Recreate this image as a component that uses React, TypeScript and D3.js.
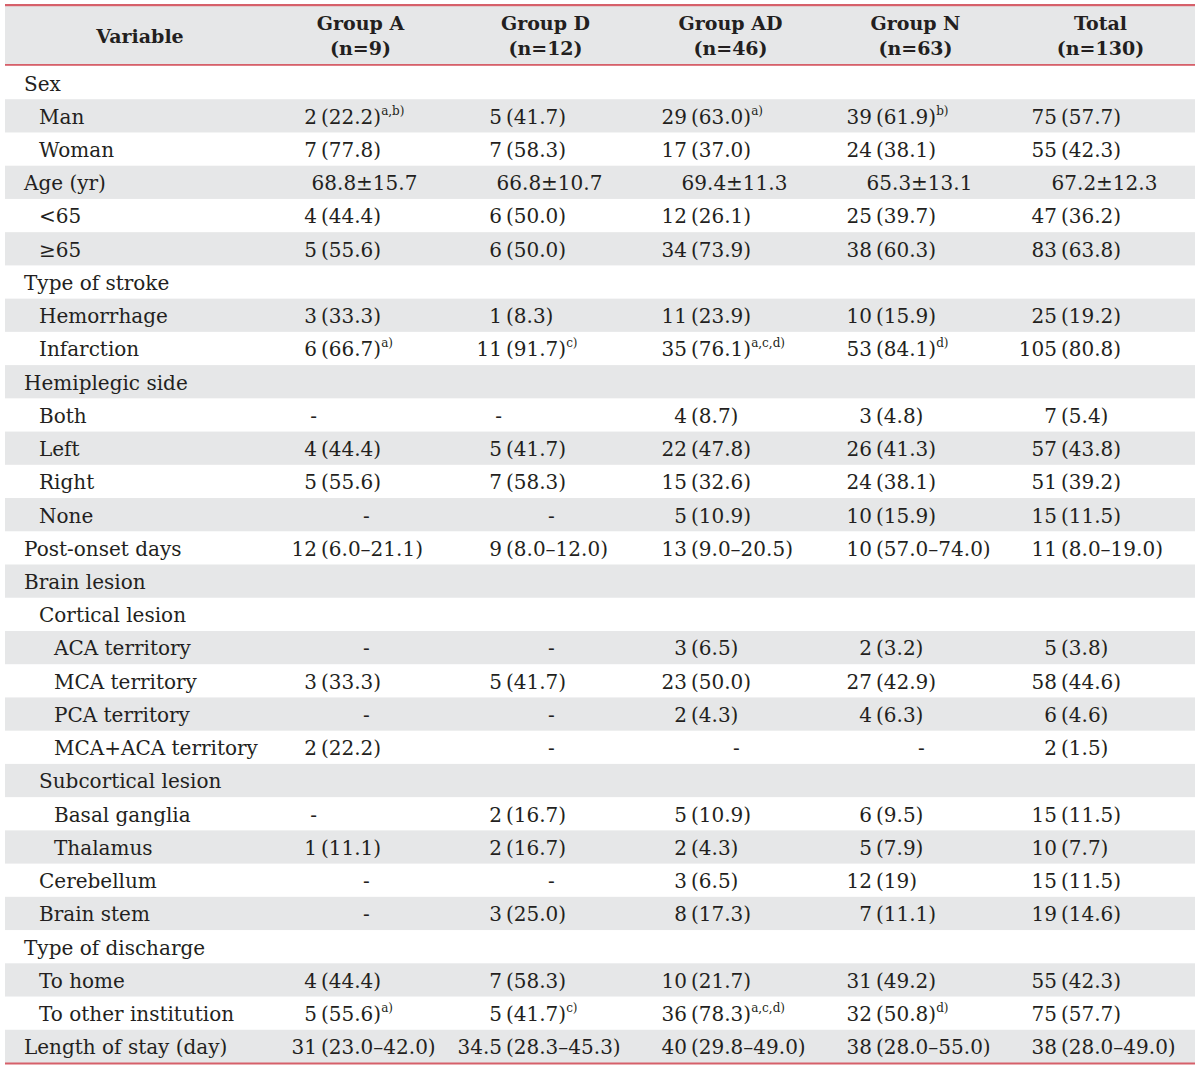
import React from "react";
import * as d3 from "d3";

const groups = ["Group A", "Group D", "Group AD", "Group N", "Total"];
const groupN = ["(n=9)", "(n=12)", "(n=46)", "(n=63)", "(n=130)"];

const variables = [
  "Sex", "Man", "Woman", "Age (yr)", "<65", "≥65", "Type of stroke", "Hemorrhage", "Infarction",
  "Hemiplegic side", "Both", "Left", "Right", "None", "Post-onset days", "Brain lesion",
  "Cortical lesion", "ACA territory", "MCA territory", "PCA territory", "MCA+ACA territory",
  "Subcortical lesion", "Basal ganglia", "Thalamus", "Cerebellum", "Brain stem",
  "Type of discharge", "To home", "To other institution", "Length of stay (day)",
];
const levels = [0, 1, 1, 0, 1, 1, 0, 1, 1, 0, 1, 1, 1, 1, 0, 0, 1, 2, 2, 2, 2, 1, 2, 2, 1, 1, 0, 1, 1, 0];

const valuesA = ["", "2 (22.2)^a,b)", "7 (77.8)", "68.8±15.7", "4 (44.4)", "5 (55.6)", "", "3 (33.3)", "6 (66.7)^a)", "", "-", "4 (44.4)", "5 (55.6)", "-", "12 (6.0–21.1)", "", "", "-", "3 (33.3)", "-", "2 (22.2)", "", "-", "1 (11.1)", "-", "-", "", "4 (44.4)", "5 (55.6)^a)", "31 (23.0–42.0)"];
const valuesD = ["", "5 (41.7)", "7 (58.3)", "66.8±10.7", "6 (50.0)", "6 (50.0)", "", "1 (8.3)", "11 (91.7)^c)", "", "-", "5 (41.7)", "7 (58.3)", "-", "9 (8.0–12.0)", "", "", "-", "5 (41.7)", "-", "-", "", "2 (16.7)", "2 (16.7)", "-", "3 (25.0)", "", "7 (58.3)", "5 (41.7)^c)", "34.5 (28.3–45.3)"];
const valuesAD = ["", "29 (63.0)^a)", "17 (37.0)", "69.4±11.3", "12 (26.1)", "34 (73.9)", "", "11 (23.9)", "35 (76.1)^a,c,d)", "", "4 (8.7)", "22 (47.8)", "15 (32.6)", "5 (10.9)", "13 (9.0–20.5)", "", "", "3 (6.5)", "23 (50.0)", "2 (4.3)", "-", "", "5 (10.9)", "2 (4.3)", "3 (6.5)", "8 (17.3)", "", "10 (21.7)", "36 (78.3)^a,c,d)", "40 (29.8–49.0)"];
const valuesN = ["", "39 (61.9)^b)", "24 (38.1)", "65.3±13.1", "25 (39.7)", "38 (60.3)", "", "10 (15.9)", "53 (84.1)^d)", "", "3 (4.8)", "26 (41.3)", "24 (38.1)", "10 (15.9)", "10 (57.0–74.0)", "", "", "2 (3.2)", "27 (42.9)", "4 (6.3)", "-", "", "6 (9.5)", "5 (7.9)", "12 (19)", "7 (11.1)", "", "31 (49.2)", "32 (50.8)^d)", "38 (28.0–55.0)"];
const valuesTotal = ["", "75 (57.7)", "55 (42.3)", "67.2±12.3", "47 (36.2)", "83 (63.8)", "", "25 (19.2)", "105 (80.8)", "", "7 (5.4)", "57 (43.8)", "51 (39.2)", "15 (11.5)", "11 (8.0–19.0)", "", "", "5 (3.8)", "58 (44.6)", "6 (4.6)", "2 (1.5)", "", "15 (11.5)", "10 (7.7)", "15 (11.5)", "19 (14.6)", "", "55 (42.3)", "75 (57.7)", "38 (28.0–49.0)"];
const leftDashRows = ["Both", "Basal ganglia"];

const columns = [valuesA, valuesD, valuesAD, valuesN, valuesTotal];

const W = 1200;
const H = 1068;
const left = 5;
const right = 1195;
const headerTop = 5;
const headerBottom = 65;
const bodyBottom = 1063;
const RED = "#d6606a";
const GRAY = "#e6e7e8";
const INK = "#231f20";
const FONT = "'DejaVu Serif', serif";
const FS = 20;
const HFS = 19;

export default function App() {
  const x = d3.scaleBand<string>().domain(groups).range([268, 1193]);
  const y = d3.scaleBand<string>().domain(variables.map((v, i) => i + "")).range([headerBottom + 1, bodyBottom]);
  const rh = y.bandwidth();

  const parse = (s: string) => {
    const m = s.match(/^(\S+)\s?(\(.*?\))?(?:\^(.*))?$/);
    if (!m) return { count: s, rest: "", sup: "" };
    return { count: m[1], rest: m[2] || "", sup: m[3] || "" };
  };

  return (
    <svg width={W} height={H} style={{ position: "absolute", left: 0, top: 0, display: "block", background: "#fff" }} fontFamily={FONT} fill={INK}>
      <rect x={left} y={headerTop} width={right - left} height={headerBottom - headerTop} fill={GRAY} />
      {variables.map((v, i) =>
        i % 2 === 1 ? (
          <rect key={"bg" + i} x={left} y={y(i + "")!} width={right - left} height={rh} fill={GRAY} />
        ) : null
      )}
      <rect x={left} y={headerTop - 1} width={right - left} height={2.2} fill={RED} />
      <rect x={left} y={headerBottom - 1} width={right - left} height={1.8} fill={RED} />
      <rect x={left} y={bodyBottom - 0.5} width={right - left} height={2} fill={RED} />

      <text x={140} y={43} textAnchor="middle" fontWeight="bold" fontSize={HFS}>Variable</text>
      {groups.map((g, j) => {
        const cx = x(g)! + x.bandwidth() / 2;
        return (
          <g key={g}>
            <text x={cx} y={30} textAnchor="middle" fontWeight="bold" fontSize={HFS}>{g}</text>
            <text x={cx} y={55} textAnchor="middle" fontWeight="bold" fontSize={HFS}>{groupN[j]}</text>
          </g>
        );
      })}

      {variables.map((v, i) => {
        const top = y(i + "")!;
        const base = top + 24.5;
        return (
          <g key={"r" + i}>
            <text x={24 + levels[i] * 15} y={base} fontSize={FS}>{v}</text>
            {columns.map((col, j) => {
              const s = col[i];
              if (!s) return null;
              const x0 = x(groups[j])!;
              const cx = x0 + x.bandwidth() / 2;
              const anchor = x0 + 49;
              if (s === "-" && !leftDashRows.includes(v)) {
                return <text key={j} x={cx + 6} y={base} textAnchor="middle" fontSize={FS}>-</text>;
              }
              if (s.includes("±")) {
                return <text key={j} x={cx + 4} y={base} textAnchor="middle" fontSize={FS}>{s}</text>;
              }
              const p = parse(s);
              return (
                <g key={j}>
                  <text x={anchor} y={base} textAnchor="end" fontSize={FS}>{p.count}</text>
                  {p.rest ? (
                    <text x={anchor + 4} y={base} fontSize={FS}>
                      <tspan>{p.rest}</tspan>
                      {p.sup ? <tspan fontSize={12} dy={-9}>{p.sup}</tspan> : null}
                    </text>
                  ) : null}
                </g>
              );
            })}
          </g>
        );
      })}
    </svg>
  );
}
